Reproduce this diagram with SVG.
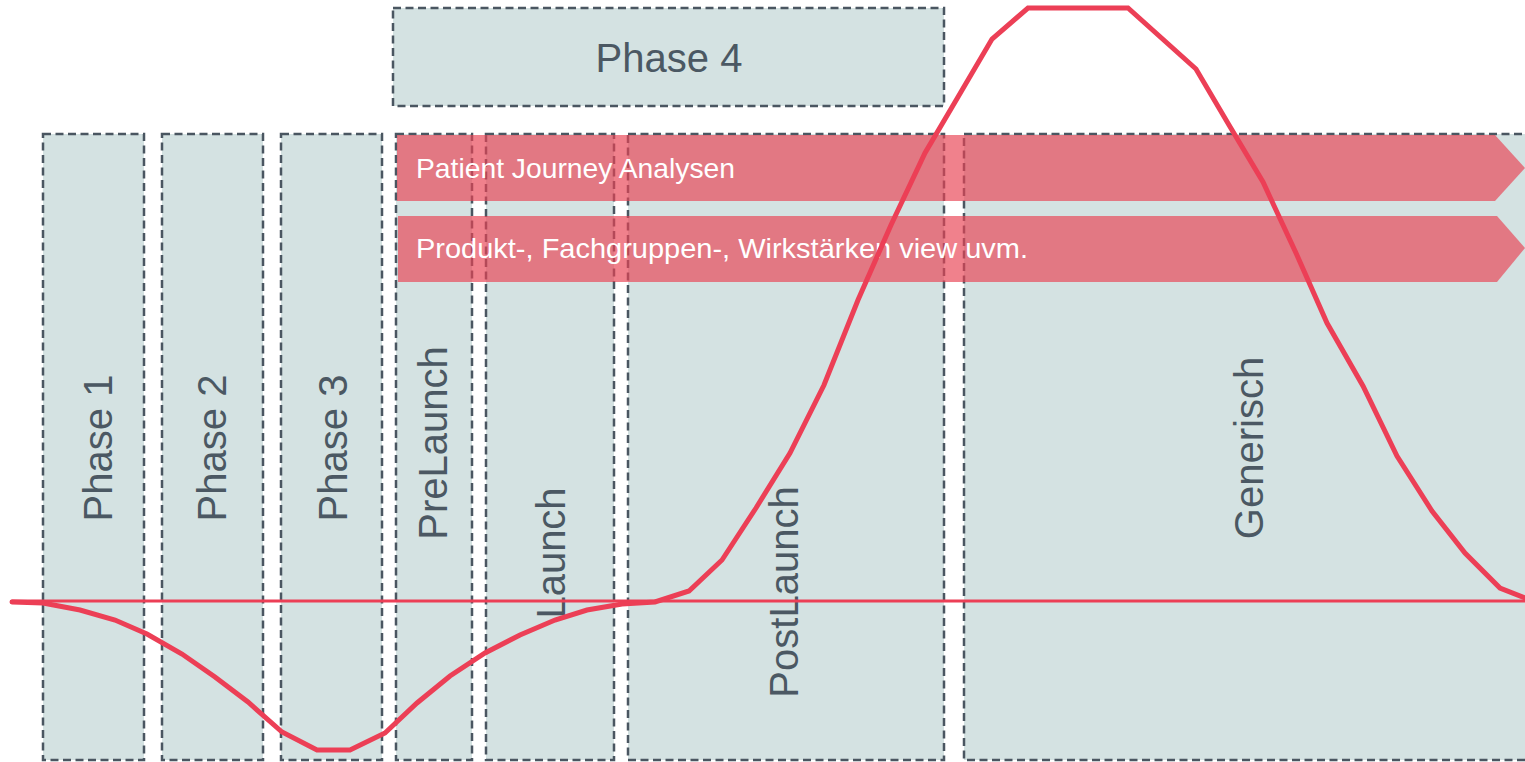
<svg xmlns="http://www.w3.org/2000/svg" width="1525" height="762" viewBox="0 0 1525 762">
  <style>
    .box { fill: #D4E2E2; stroke: #4A5661; stroke-width: 2.5; stroke-dasharray: 8 4.5; }
    .lbl { font-family: "Liberation Sans", Arial, sans-serif; font-size: 40px; fill: #4B5863; text-anchor: middle; }
    .band { fill: #E94354; fill-opacity: 0.67; }
    .btxt { font-family: "Liberation Sans", Arial, sans-serif; font-size: 28px; fill: #FFFFFF; }
    .curve { fill: none; stroke: #EC3F56; stroke-width: 5; stroke-linejoin: miter; stroke-linecap: round; }
    .axis { fill: none; stroke: #EC3F56; stroke-width: 3; stroke-linecap: round; }
  </style>
  <rect width="1525" height="762" fill="#FFFFFF"/>

  <g id="phase1">
    <rect class="box" x="43" y="134" width="101" height="626"/>
    <text class="lbl" transform="translate(112,448) rotate(-90)" x="0" y="0">Phase 1</text>
  </g>
  <g id="phase2">
    <rect class="box" x="162" y="134" width="101" height="626"/>
    <text class="lbl" transform="translate(226,448) rotate(-90)" x="0" y="0">Phase 2</text>
  </g>
  <g id="phase3">
    <rect class="box" x="281" y="134" width="101" height="626"/>
    <text class="lbl" transform="translate(347,448) rotate(-90)" x="0" y="0">Phase 3</text>
  </g>
  <g id="prelaunch">
    <rect class="box" x="396" y="134" width="76" height="626"/>
    <text class="lbl" transform="translate(447,443) rotate(-90)" x="0" y="0">PreLaunch</text>
  </g>
  <g id="launch">
    <rect class="box" x="486" y="134" width="128" height="626"/>
    <text class="lbl" transform="translate(565,553) rotate(-90)" x="0" y="0">Launch</text>
  </g>
  <g id="postlaunch">
    <rect class="box" x="628" y="134" width="316" height="626"/>
    <text class="lbl" transform="translate(798,592) rotate(-90)" x="0" y="0">PostLaunch</text>
  </g>
  <g id="generisch">
    <rect class="box" x="964" y="134" width="580" height="626"/>
    <text class="lbl" transform="translate(1263,448) rotate(-90)" x="0" y="0">Generisch</text>
  </g>
  <g id="phase4">
    <rect class="box" x="393" y="8" width="551" height="98"/>
    <text class="lbl" x="669" y="72">Phase 4</text>
  </g>

  <g id="patient-journey">
    <polygon class="band" points="397,135 1495,135 1525,168 1495,201 397,201"/>
    <text class="btxt" x="416" y="178" textLength="319" lengthAdjust="spacingAndGlyphs">Patient Journey Analysen</text>
  </g>
  <g id="produkt-view">
    <polygon class="band" points="398,216 1497,216 1525,248 1497,282 398,282"/>
    <text class="btxt" x="416" y="258" textLength="612" lengthAdjust="spacingAndGlyphs">Produkt-, Fachgruppen-, Wirkstärken view uvm.</text>
  </g>

  <g id="connectors">
    <line class="axis" x1="12" y1="601" x2="1525" y2="601"/>
    <polyline class="curve" points="12,602 43,603 80,610 115,620 147,634 182,654 215,677 248,702 282,732 317,750 350,750 385,733 417,703 450,676 485,653 520,635 555,620 587,610 622,604 655,602 689,591 722,560 756,508 790,453 824,385 858,300 891,225 925,153 958,97 992,39 1028,8 1128,8 1196,69 1229,125 1263,182 1296,253 1327,323 1363,386 1397,456 1432,511 1465,553 1500,588 1525,598"/>
  </g>
</svg>
